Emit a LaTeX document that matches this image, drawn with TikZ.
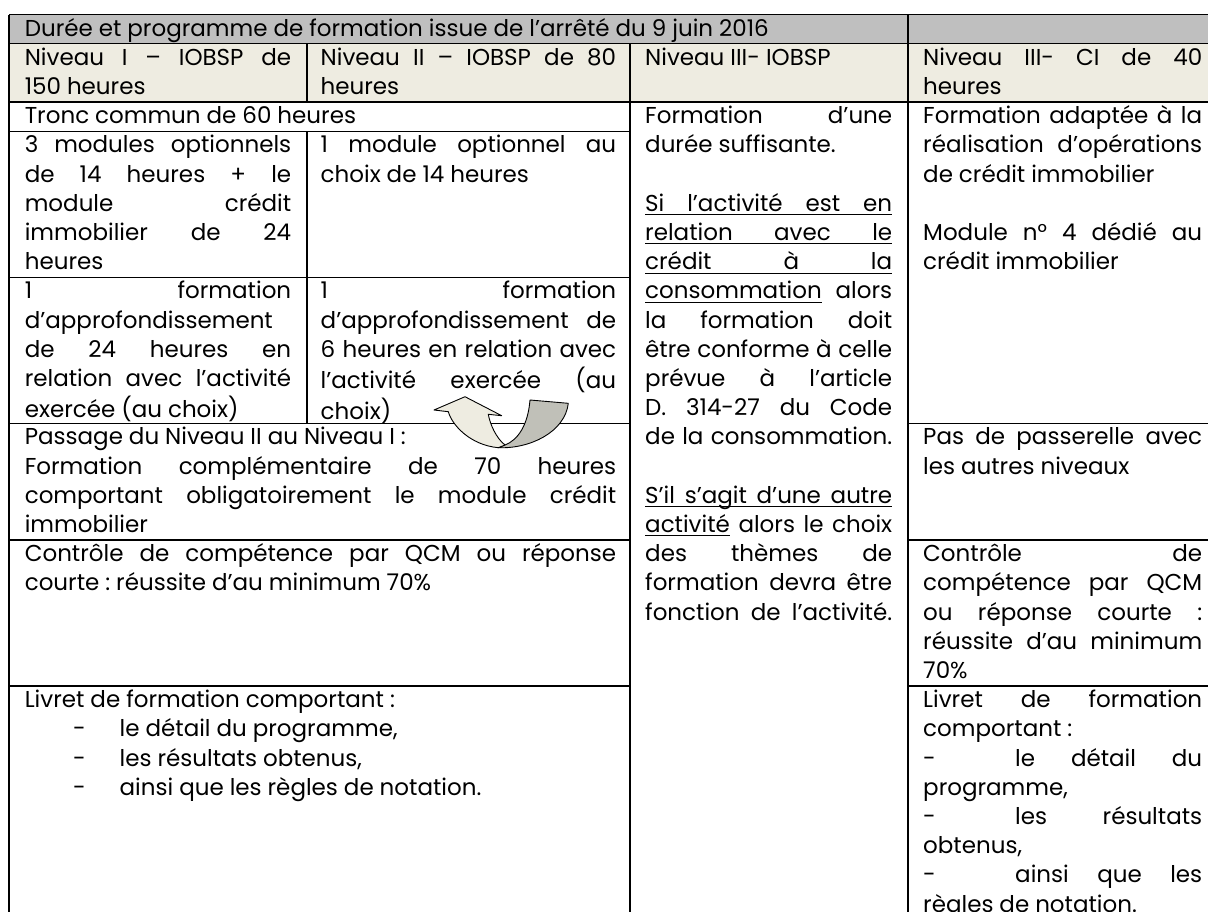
\documentclass[tikz,border=0pt]{standalone}
\usepackage{fontspec}
\setmainfont{Poppins}
\usepackage{tikz}
\usetikzlibrary{shapes,arrows}
\definecolor{headgray}{HTML}{BFBFBF}
\definecolor{levelbeige}{HTML}{EEECE1}
\definecolor{backgray}{HTML}{C0C0B8}
\setlength{\parindent}{0pt}
\hbadness=10000
\hfuzz=20pt
\newcommand{\cellfont}{\fontsize{23}{29.2}\selectfont\frenchspacing\spaceskip=0.26em plus 3em minus 0.1em}
% one justified line, and one line set flush left
\newcommand{\jl}[1]{\hbox to\hsize{\strut #1}\par}
\newcommand{\fl}[1]{\hbox{\strut #1}\par}
\newcommand{\listdash}{\makebox[92pt][l]{-}}
\newcommand{\listitem}{\hspace*{48.4pt}\makebox[46.5pt][l]{-}}
\newcommand{\fullline}{\rlap{\rule[-3.8pt]{\hsize}{0.9pt}}}
\newcommand{\wordline}[1]{\sbox0{#1}\rlap{\rule[-3.8pt]{\wd0}{0.9pt}}\box0\relax}
\tikzstyle{cell} = [anchor=north west, inner sep=0pt, align=justify, font=\cellfont]
\tikzstyle{gridline} = [draw, line width=1.5pt]
\tikzstyle{bendarrow} = [draw=black, line width=0.9pt, line join=round]

\begin{document}
\begin{tikzpicture}[x=1pt, y=-1pt]
    \useasboundingbox (0,0) rectangle (1208,911);
    \clip (0,0) rectangle (1208,911);
    % We start by shading the two header rows
    \fill [headgray] (9,14.5) rectangle (1218,43.7);
    \fill [levelbeige] (9,43.7) rectangle (1218,102.1);
    % Then we draw the rules of the table
    \draw [gridline] (9,14.5) -- (1218,14.5);
    \draw [gridline] (9,43.7) -- (1218,43.7);
    \draw [gridline] (9,102.1) -- (1218,102.1);
    \draw [gridline] (9,131.3) -- (630,131.3);
    \draw [gridline] (9,277.3) -- (630,277.3);
    \draw [gridline] (9,423.3) -- (630,423.3) (908,423.3) -- (1218,423.3);
    \draw [gridline] (9,540.1) -- (630,540.1) (908,540.1) -- (1218,540.1);
    \draw [gridline] (9,686.1) -- (630,686.1) (908,686.1) -- (1218,686.1);
    \draw [gridline] (9,14.5) -- (9,920);
    \draw [gridline] (307,43.7) -- (307,102.1) (307,131.3) -- (307,423.3);
    \draw [gridline] (630,43.7) -- (630,920);
    \draw [gridline] (908,14.5) -- (908,920);
    % We place the texts of the header rows
    \node [cell, text width=860pt] (title) at (24.6,15.5) {\fl{Durée et programme de formation issue de l’arrêté du 9 juin 2016}};
    \node [cell, text width=266.4pt] (lvlA) at (24.6,44.7) {\jl{Niveau I – IOBSP de}\fl{150 heures}};
    \node [cell, text width=295.5pt] (lvlB) at (320.5,44.7) {\jl{Niveau II – IOBSP de 80}\fl{heures}};
    \node [cell, text width=247pt] (lvlC) at (645,44.7) {\fl{Niveau III- IOBSP}};
    \node [cell, text width=279pt] (lvlD) at (923,44.7) {\jl{Niveau III- CI de 40}\fl{heures}};
    % Levels I and II
    \node [cell, text width=591.4pt] (tronc) at (24.6,103.1) {\fl{Tronc commun de 60 heures}};
    \node [cell, text width=266.4pt] (optA) at (24.6,132.3) {\jl{3 modules optionnels}\jl{de 14 heures + le}\jl{module crédit}\jl{immobilier de 24}\fl{heures}};
    \node [cell, text width=295.5pt] (optB) at (320.5,132.3) {\jl{1 module optionnel au}\fl{choix de 14 heures}};
    \node [cell, text width=266.4pt] (deepA) at (24.6,278.3) {\jl{1 formation}\fl{d’approfondissement}\jl{de 24 heures en}\jl{relation avec l’activité}\fl{exercée (au choix)}};
    \node [cell, text width=295.5pt] (deepB) at (320.5,278.3) {\jl{1 formation}\jl{d’approfondissement de}\jl{6 heures en relation avec}\jl{l’activité exercée (au}\fl{choix)}};
    \node [cell, text width=591.4pt] (passage) at (24.6,424.3) {\fl{Passage du Niveau II au Niveau I :}\jl{Formation complémentaire de 70 heures}
        \jl{comportant obligatoirement le module crédit}\fl{immobilier}};
    \node [cell, text width=591.4pt] (controlA) at (24.6,541.1) {\jl{Contrôle de compétence par QCM ou réponse}\fl{courte : réussite d’au minimum 70\%}};
    \node [cell, text width=591.4pt] (bookletA) at (24.6,687.1) {\fl{Livret de formation comportant :}
        \fl{\listitem le détail du programme,}
        \fl{\listitem les résultats obtenus,}
        \fl{\listitem ainsi que les règles de notation.}};
    % Level III IOBSP
    \node [cell, text width=247pt] (rulesC) at (645,103.1) {\jl{Formation d’une}\fl{durée suffisante.}\fl{}
        \jl{\fullline Si l’activité est en}\jl{\fullline relation avec le}\jl{\fullline crédit à la}
        \jl{\wordline{consommation} alors}\jl{la formation doit}\jl{être conforme à celle}
        \jl{prévue à l’article}\jl{D. 314-27 du Code}\jl{de la consommation.}\fl{}
        \jl{\fullline S’il s’agit d’une autre}\jl{\wordline{activité} alors le choix}\jl{des thèmes de}
        \jl{formation devra être}\jl{fonction de l’activité.}};
    % Level III CI
    \node [cell, text width=279pt] (adaptD) at (923,103.1) {\jl{Formation adaptée à la}\jl{réalisation d’opérations}\fl{de crédit immobilier}\fl{}
        \jl{Module n° 4 dédié au}\fl{crédit immobilier}};
    \node [cell, text width=279pt] (bridgeD) at (923,424.3) {\jl{Pas de passerelle avec}\fl{les autres niveaux}};
    \node [cell, text width=279pt] (controlD) at (923,541.1) {\jl{Contrôle de}\jl{compétence par QCM}\jl{ou réponse courte :}\jl{réussite d’au minimum}\fl{70\%}};
    \node [cell, text width=279pt] (bookletD) at (923,687.1) {\jl{Livret de formation}\fl{comportant :}
        \jl{\listdash le détail du}\fl{programme,}
        \jl{\listdash les résultats}\fl{obtenus,}
        \jl{\listdash ainsi que les}\fl{règles de notation.}};
    % Finally the bent arrow from level II back to level I
    \filldraw [bendarrow, fill=backgray] (498.3,447.7) .. controls (530,449) and (565,432) .. (568.3,403.3)
        -- (530,400) .. controls (528,425) and (518,440) .. (505,445) -- cycle;
    \filldraw [bendarrow, fill=levelbeige] (434,410) -- (465,396.7) -- (501.7,415.7) -- (488.3,414.3)
        .. controls (490,424) and (496,438) .. (505,445) -- (498.3,447.7)
        .. controls (470,445) and (452,425) .. (448.3,411.7) -- cycle;
\end{tikzpicture}
\end{document}
